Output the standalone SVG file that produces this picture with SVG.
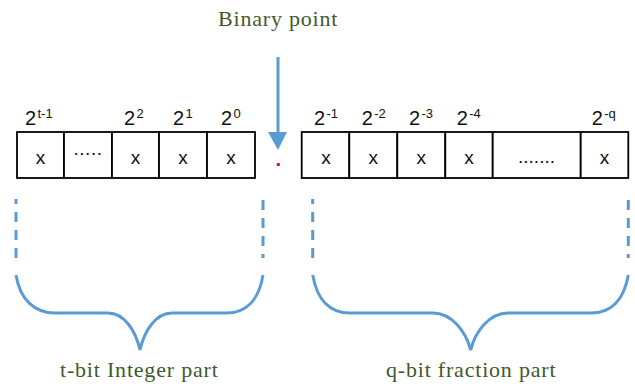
<svg xmlns="http://www.w3.org/2000/svg" width="635" height="386" viewBox="0 0 635 386">
<defs>
<style>
.cap{font-size:22px;fill:#3f5a2c;letter-spacing:0.8px}
.exp{font-family:"Liberation Sans",Arial,sans-serif;font-size:20px;fill:#111}
.sup{font-family:"Liberation Sans",Arial,sans-serif;font-size:13px;fill:#111}
.bit{font-family:"Liberation Sans",Arial,sans-serif;font-size:19px;fill:#111;text-anchor:middle}
.cell{fill:#fff;stroke:#000;stroke-width:1.8}
.dash{stroke:#5b9bd5;stroke-width:3;stroke-dasharray:10 8;fill:none}
.brace{stroke:#5b9bd5;stroke-width:3;fill:none}
</style>
</defs>
<rect width="635" height="386" fill="#fff"/>
<g id="binary-point-label">
<text class="cap" font-family="Liberation Serif" x="218" y="26">Binary point</text>
</g>
<g id="connectors">
<line x1="278" y1="57" x2="278" y2="134" stroke="#5b9bd5" stroke-width="3"/>
<polygon points="268,132 287,132 278,150" fill="#5b9bd5"/>
</g>
<g id="point">
<rect x="276.8" y="163" width="3" height="3" fill="#e8121a"/>
</g>
<g id="integer-part">
<rect class="cell" x="17" y="132" width="47" height="46"/>
<rect class="cell" x="64" y="132" width="48" height="46"/>
<rect class="cell" x="112" y="132" width="47" height="46"/>
<rect class="cell" x="159" y="132" width="48" height="46"/>
<rect class="cell" x="207" y="132" width="48" height="46"/>
<text class="bit" x="40.5" y="164">x</text>
<text class="bit" x="88" y="155" letter-spacing="0.5">.....</text>
<text class="bit" x="135.5" y="164">x</text>
<text class="bit" x="183" y="164">x</text>
<text class="bit" x="231" y="164">x</text>
<text class="exp" x="25" y="125">2</text><text class="sup" x="37.5" y="118">t-1</text>
<text class="exp" x="124" y="125">2</text><text class="sup" x="136.5" y="118">2</text>
<text class="exp" x="173" y="125">2</text><text class="sup" x="185.5" y="118">1</text>
<text class="exp" x="221" y="125">2</text><text class="sup" x="233.5" y="118">0</text>
</g>
<g id="fraction-part">
<rect class="cell" x="301.7" y="132" width="47.6" height="46"/>
<rect class="cell" x="349.3" y="132" width="48" height="46"/>
<rect class="cell" x="397.3" y="132" width="48" height="46"/>
<rect class="cell" x="445.3" y="132" width="47.4" height="46"/>
<rect class="cell" x="492.7" y="132" width="88" height="46"/>
<rect class="cell" x="580.7" y="132" width="47.6" height="46"/>
<text class="bit" x="326" y="164">x</text>
<text class="bit" x="373.3" y="164">x</text>
<text class="bit" x="421.3" y="164">x</text>
<text class="bit" x="469" y="164">x</text>
<text class="bit" x="536.5" y="163">.......</text>
<text class="bit" x="604.5" y="164">x</text>
<text class="exp" x="314" y="125">2</text><text class="sup" x="326.5" y="118">-1</text>
<text class="exp" x="361.7" y="125">2</text><text class="sup" x="374.2" y="118">-2</text>
<text class="exp" x="409" y="125">2</text><text class="sup" x="421.5" y="118">-3</text>
<text class="exp" x="456.7" y="125">2</text><text class="sup" x="469.2" y="118">-4</text>
<text class="exp" x="591.7" y="125">2</text><text class="sup" x="604.2" y="118">-q</text>
</g>
<g id="integer-brace">
<line class="dash" x1="16" y1="258" x2="16" y2="199"/>
<line class="dash" x1="263" y1="200" x2="263" y2="258"/>
<path class="brace" d="M16,275 C20,300 35,313 55,313 L108,313 C125,313 136,332 140,350 C144,332 155,313 172,313 L226,313 C246,313 259,300 263,275"/>
<text class="cap" font-family="Liberation Serif" x="60" y="377">t-bit Integer part</text>
</g>
<g id="fraction-brace">
<line class="dash" x1="312.7" y1="258" x2="312.7" y2="199"/>
<line class="dash" x1="628.3" y1="200" x2="628.3" y2="258"/>
<path class="brace" d="M312.7,275 C317,300 330,313 350,313 L433,313 C452,313 466,332 470.7,350 C475,332 489,313 508,313 L591,313 C611,313 624,300 628.3,275"/>
<text class="cap" font-family="Liberation Serif" x="386" y="377">q-bit fraction part</text>
</g>
</svg>
